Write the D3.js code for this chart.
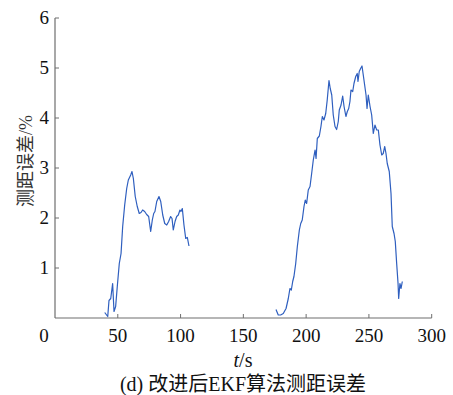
<!DOCTYPE html>
<html>
<head>
<meta charset="utf-8">
<script src="https://cdn.jsdelivr.net/npm/d3@7/dist/d3.min.js"></script>
</head>
<body style="margin:0">
<svg id="chart" width="453" height="395" style="display:block;background:#fff"></svg>
<script>
// Ranging error of the improved EKF over time; the signal is lost between segments.
const segATime = [39.6, 42.0, 43.0, 44.4, 45.9, 47.0, 48.3, 49.6, 51.2, 52.6, 53.9, 55.5, 57.1, 58.4, 60.3, 61.3, 62.4, 63.9, 65.5, 67.1, 68.5, 69.8, 71.4, 73.0, 74.6, 76.2, 77.5, 78.6, 79.6, 81.0, 82.8, 84.2, 85.8, 87.4, 89.0, 90.5, 92.1, 93.2, 94.2, 95.6, 96.9, 98.2, 99.5, 100.3, 101.4, 102.7, 104.1, 105.4, 106.7];
const segAError = [0.11, 0.03, 0.35, 0.39, 0.69, 0.13, 0.23, 0.63, 1.09, 1.29, 1.83, 2.26, 2.59, 2.76, 2.86, 2.93, 2.79, 2.43, 2.23, 2.09, 2.11, 2.16, 2.13, 2.07, 2.03, 1.73, 1.96, 2.09, 2.13, 2.33, 2.43, 2.33, 2.06, 1.89, 1.86, 1.93, 2.03, 1.99, 1.76, 1.93, 2.03, 2.06, 2.16, 2.13, 2.19, 1.86, 1.59, 1.61, 1.44];

const segBTime = [176.0, 177.8, 179.7, 181.8, 184.0, 185.8, 187.1, 188.2, 189.3, 190.3, 191.7, 193.0, 194.6, 195.7, 196.9, 198.3, 199.3, 200.4, 201.7, 203.1, 204.4, 205.7, 207.1, 207.9, 208.9, 210.5, 211.8, 212.9, 214.2, 215.6, 216.8, 218.2, 219.2, 220.4, 221.6, 223.0, 224.3, 225.6, 226.4, 227.8, 229.1, 230.2, 231.7, 232.8, 233.9, 234.9, 235.7, 237.1, 238.1, 239.5, 240.7, 241.3, 242.3, 243.4, 244.5, 245.5, 246.6, 247.7, 248.5, 249.5, 250.9, 252.2, 253.5, 254.8, 256.2, 257.5, 258.8, 260.2, 261.4, 262.6, 263.6, 264.6, 266.2, 267.6, 268.6, 270.0, 271.0, 272.1, 273.2, 273.7, 274.7, 275.6, 276.6];
const segBError = [0.17, 0.06, 0.06, 0.09, 0.19, 0.39, 0.59, 0.56, 0.73, 0.83, 1.09, 1.43, 1.76, 1.89, 1.96, 2.23, 2.36, 2.29, 2.56, 2.63, 2.89, 3.16, 3.36, 3.19, 3.59, 3.64, 3.83, 4.03, 3.96, 4.09, 4.36, 4.75, 4.59, 4.46, 4.06, 3.83, 3.77, 3.93, 4.16, 4.26, 4.44, 4.23, 4.03, 4.13, 4.19, 4.33, 4.56, 4.53, 4.69, 4.83, 4.89, 4.73, 4.93, 4.99, 5.04, 4.86, 4.66, 4.46, 4.19, 4.46, 4.23, 4.06, 3.69, 3.86, 3.76, 3.76, 3.46, 3.26, 3.29, 3.43, 3.29, 3.09, 2.93, 2.49, 1.83, 1.69, 1.53, 1.09, 0.69, 0.39, 0.69, 0.59, 0.73];

const xTicks = [0, 50, 100, 150, 200, 250, 300];
const yTicks = [1, 2, 3, 4, 5, 6];

const xLabel = "t";
const xUnit = "/s";
const yLabel = "测距误差/%";
const caption = "(d) 改进后EKF算法测距误差";

const svg = d3.select("#chart");
const plotLeft = 55, plotRight = 431.7, plotTop = 18, plotBottom = 318;

const x = d3.scaleLinear().domain([0, 300]).range([plotLeft, plotRight]);
const y = d3.scaleLinear().domain([0, 6]).range([plotBottom, plotTop]);

const axisColor = "#6e6e6e";
const serifFace = d => `"Liberation Serif"`;
const mixedFace = d => `"Liberation Serif", "Noto Sans CJK SC"`;

// plain axis lines
svg.append("line")
  .attr("x1", x(0)).attr("x2", x(300)).attr("y1", y(0)).attr("y2", y(0))
  .attr("stroke", axisColor).attr("stroke-width", 1.2);
svg.append("line")
  .attr("x1", x(0)).attr("x2", x(0)).attr("y1", y(0)).attr("y2", y(6))
  .attr("stroke", axisColor).attr("stroke-width", 1.2);

// inward tick marks
svg.append("g").selectAll("line").data(xTicks.filter(d => d > 0)).join("line")
  .attr("x1", d => x(d)).attr("x2", d => x(d))
  .attr("y1", y(0)).attr("y2", y(0) - 4)
  .attr("stroke", axisColor);
svg.append("g").selectAll("line").data(yTicks).join("line")
  .attr("x1", x(0)).attr("x2", x(0) + 4)
  .attr("y1", d => y(d)).attr("y2", d => y(d))
  .attr("stroke", axisColor);

// tick labels
svg.append("g").selectAll("text").data(xTicks).join("text")
  .attr("x", d => d === 0 ? x(d) - 11 : x(d))
  .attr("y", y(0) + 24)
  .attr("text-anchor", "middle")
  .style("font-family", serifFace)
  .style("font-size", "19px")
  .attr("fill", "#111")
  .text(d => d);
svg.append("g").selectAll("text").data(yTicks).join("text")
  .attr("x", x(0) - 6)
  .attr("y", d => y(d) + 6)
  .attr("text-anchor", "end")
  .style("font-family", serifFace)
  .style("font-size", "19px")
  .attr("fill", "#111")
  .text(d => d);

// error curve segments
const line = d3.line().x(d => x(d[0])).y(d => y(d[1]));
const segments = [
  d3.zip(segATime, segAError),
  d3.zip(segBTime, segBError)
];
svg.append("g").selectAll("path")
  .data(segments)
  .join("path")
  .attr("d", line)
  .attr("fill", "none")
  .attr("stroke", "#2f5fbf")
  .attr("stroke-width", 1.2)
  .attr("stroke-linejoin", "round");

// axis titles
const xt = svg.append("text")
  .attr("x", 243).attr("y", 367)
  .attr("text-anchor", "middle")
  .style("font-family", serifFace)
  .style("font-size", "20px").attr("fill", "#111");
xt.append("tspan").style("font-style", "italic").text(xLabel);
xt.append("tspan").text(xUnit);

svg.append("text")
  .attr("transform", "translate(32,161) rotate(-90)")
  .attr("text-anchor", "middle")
  .style("font-family", mixedFace)
  .style("font-size", "18px").attr("fill", "#333")
  .text(yLabel);

// caption
svg.append("text")
  .attr("x", 243).attr("y", 391)
  .attr("text-anchor", "middle")
  .style("font-family", mixedFace)
  .style("font-size", "20px").attr("fill", "#111")
  .text(caption);
</script>
</body>
</html>
